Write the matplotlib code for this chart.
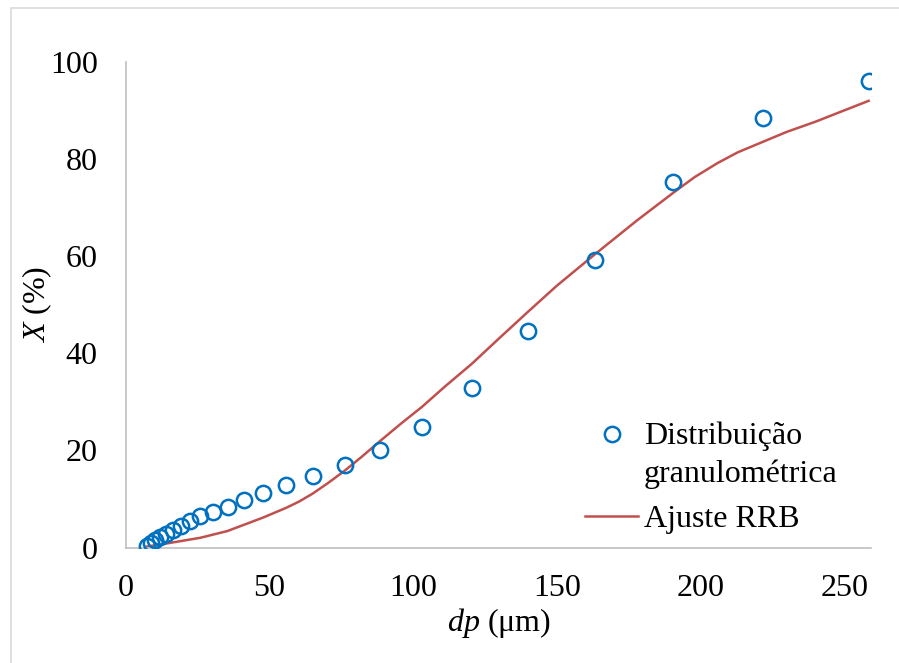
import matplotlib
matplotlib.use('Agg')
import matplotlib.pyplot as plt
from matplotlib.patches import Rectangle
from matplotlib.legend_handler import HandlerLine2D

# ─── Fonts (Times-like serif, italic symbols via mathtext) ───
plt.rcParams['font.family'] = ['Liberation Serif', 'DejaVu Serif']
plt.rcParams['mathtext.fontset'] = 'custom'
plt.rcParams['mathtext.rm'] = 'Liberation Serif'
plt.rcParams['mathtext.it'] = 'Liberation Serif:italic'

# -------------------------
# Data
# -------------------------
# particle size distribution (cumulative % passing)
dp_exp = [7.5, 8.9, 10.4, 12.1, 14.1, 16.5, 19.2, 22.3, 26.0, 30.6, 35.5, 41.3,
          48.0, 56.0, 65.1, 76.2, 88.7, 103.2, 120.4, 140.1, 163.3, 190.4,
          221.9, 258.5]
x_exp = [0.3, 0.9, 1.5, 2.1, 2.8, 3.6, 4.5, 5.4, 6.4, 7.4, 8.4, 9.8,
         11.2, 12.9, 14.7, 17.0, 20.1, 24.9, 32.8, 44.6, 59.2, 75.2,
         88.5, 96.1]

# RRB model curve
dp_fit = [7.5, 15.0, 26.0, 35.5, 41.3, 48.0, 56.0, 60.5, 65.1, 70.5, 76.2,
          82.0, 88.7, 96.0, 103.2, 111.0, 120.4, 130.0, 140.1, 150.0, 163.3,
          178.0, 190.4, 198.0, 206.0, 213.0, 221.9, 230.0, 240.0, 258.5]
x_fit = [0.2, 0.9, 2.0, 3.4, 4.7, 6.2, 8.2, 9.5, 11.1, 13.3, 15.8,
         18.6, 22.0, 25.6, 29.0, 33.1, 37.8, 43.1, 48.6, 53.9, 60.4,
         67.4, 73.0, 76.3, 79.2, 81.4, 83.6, 85.6, 87.7, 92.0]

blue = '#0070C0'
red = '#C0504D'
grey = '#BFBFBF'
fs = 23


class FirstLineHandler(HandlerLine2D):
    # put the marker level with the first line of a two-line label
    def create_artists(self, legend, orig_handle, xdescent, ydescent,
                       width, height, fontsize, trans):
        artists = super().create_artists(legend, orig_handle, xdescent, ydescent,
                                          width, height, fontsize, trans)
        for a in artists:
            a.set_ydata([y + 0.65 * fontsize for y in a.get_ydata()])
        return artists


# -------------------------
# Plot
# -------------------------
fig = plt.figure(figsize=(8.99, 6.63), dpi=100, facecolor='white')
ax = fig.add_axes([0.1396, 0.1742, 0.8298, 0.7323])

pts, = ax.plot(dp_exp, x_exp, linestyle='none', marker='o', markersize=11,
               markerfacecolor='none', markeredgecolor=blue, markeredgewidth=1.8,
               label='Distribuição\ngranulométrica', zorder=3)
ax.plot(dp_fit, x_fit, color=red, linewidth=1.8, label='Ajuste RRB', zorder=2)

ax.set_xlim(0, 259.5)
ax.set_ylim(0, 100)
ax.set_xticks([0, 50, 100, 150, 200, 250])
ax.set_yticks([0, 20, 40, 60, 80, 100])

for side in ['top', 'right']:
    ax.spines[side].set_visible(False)
for side in ['left', 'bottom']:
    ax.spines[side].set_color(grey)
    ax.spines[side].set_linewidth(1.2)

ax.tick_params(axis='both', length=0, labelsize=fs, colors='black')
ax.tick_params(axis='y', pad=20)
ax.tick_params(axis='x', pad=19)

ax.set_xlabel('$dp$ (μm)', fontsize=fs, labelpad=2)
ax.set_ylabel('$X$ (%)', fontsize=fs, labelpad=-3)

leg = ax.legend(loc='upper left', bbox_to_anchor=(0.578, 0.318), frameon=False,
                fontsize=fs, handlelength=1.65, handletextpad=0.18,
                labelspacing=0.5, handler_map={pts: FirstLineHandler()})
for t in leg.get_texts():
    t.set_linespacing(1.34)

# outer chart frame
fig.patches.append(Rectangle((11 / 899, -0.05), 1.2, 1.05 - 8 / 663,
                             transform=fig.transFigure, fill=False,
                             edgecolor='#D9D9D9', linewidth=1.2))

fig.savefig('out.png', dpi=100, facecolor='white')
